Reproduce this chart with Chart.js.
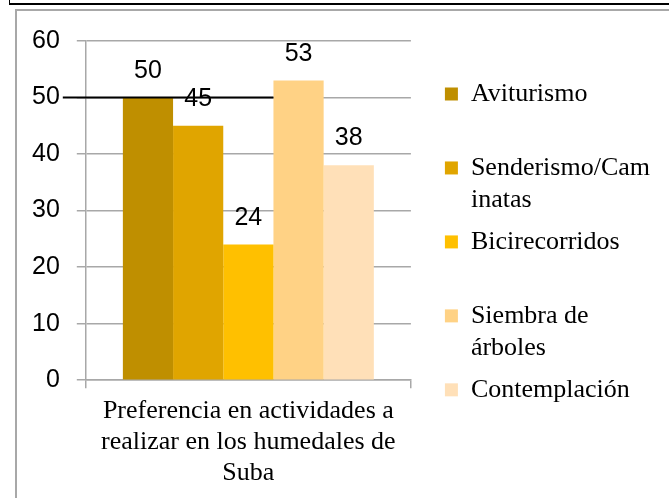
<!DOCTYPE html>
<html>
<head>
<meta charset="utf-8">
<script src="https://cdn.jsdelivr.net/npm/chart.js@4.4.0/dist/chart.umd.min.js"></script>
<style>
  body { margin: 0; background: #fff; }
  #wrap { position: relative; width: 669px; height: 498px; overflow: hidden; }
  .outer { position: absolute; left: 9px; top: -20px; width: 800px; height: 23px; border-left: 1px solid #000; border-bottom: 2px solid #000; }
  .inner { position: absolute; left: 15px; top: 9px; width: 800px; height: 800px; border: 2px solid #a8a8a8; }
  #chart { position: absolute; left: 0; top: 0; }
</style>
</head>
<body>
<div id="wrap">
  <div class="outer"></div>
  <div class="inner"></div>
  <canvas id="chart" width="669" height="498"></canvas>
</div>
<script>
// data
let categories = [['Preferencia en actividades a', 'realizar en los humedales de', 'Suba']];
let seriesNames = ['Aviturismo', 'Senderismo/Cam\ninatas', 'Bicirecorridos', 'Siembra de\nárboles', 'Contemplación'];
let seriesValues = [50, 45, 24, 53, 38];
let seriesColors = ['#BF8F00', '#E0A500', '#FFC000', '#FFD285', '#FFE0B8'];
let yMin = 0, yMax = 60, yStep = 10;
let blackLineValue = 50;

let gridColor = '#a8a8a8';
let sansFont = '"Liberation Sans", Arial, sans-serif';
let serifFont = '"Liberation Serif", "Times New Roman", serif';

let datasets = [];
for (let i = 0; i < seriesNames.length; i++) {
    datasets.push({
        label: seriesNames[i],
        data: [seriesValues[i]],
        backgroundColor: seriesColors[i],
        borderWidth: 0,
        barPercentage: 1,
        categoryPercentage: 0.772
    });
}

// numbers over bars + the stray black line at 50
let valueLabels = {
    id: 'valueLabels',
    afterDatasetsDraw(chart) {
        let ctx = chart.ctx;
        let yScale = chart.scales.y;
        ctx.save();

        let y50 = yScale.getPixelForValue(blackLineValue);
        let bar4 = chart.getDatasetMeta(3).data[0];
        ctx.strokeStyle = '#000';
        ctx.lineWidth = 2;
        ctx.beginPath();
        ctx.moveTo(chart.chartArea.left - 23, y50);
        ctx.lineTo(bar4.x - bar4.width / 2, y50);
        ctx.stroke();

        ctx.font = '25px ' + sansFont;
        ctx.fillStyle = '#000';
        ctx.textAlign = 'center';
        ctx.textBaseline = 'alphabetic';
        chart.data.datasets.forEach(function(ds, i) {
            chart.getDatasetMeta(i).data.forEach(function(bar, j) {
                ctx.fillText(ds.data[j], bar.x, bar.y - 20);
            });
        });
        ctx.restore();
    }
};

new Chart(document.getElementById('chart'), {
    type: 'bar',
    data: {
        labels: categories,
        datasets: datasets
    },
    options: {
        responsive: false,
        animation: false,
        layout: { padding: { top: 41, bottom: 1, left: 15, right: 9 } },
        plugins: {
            tooltip: { enabled: false },
            legend: {
                position: 'right',
                align: 'start',
                maxWidth: 400,
                title: { display: true, text: '', padding: { top: 29, bottom: 0 }, font: { size: 1, lineHeight: 1 } },
                labels: {
                    boxWidth: 13,
                    boxHeight: 13,
                    padding: 10,
                    color: '#000',
                    font: { family: serifFont, size: 26, lineHeight: 1.23 },
                    generateLabels(chart) {
                        return Chart.defaults.plugins.legend.labels.generateLabels(chart).map(function(item) {
                            let lines = item.text.split('\n');
                            if (lines.length < 2) lines.push('');
                            item.text = lines;
                            return item;
                        });
                    }
                }
            }
        },
        scales: {
            x: {
                grid: { display: true, drawOnChartArea: false, tickLength: 8, color: gridColor, lineWidth: 1.5 },
                border: { color: gridColor, width: 1.5 },
                ticks: { color: '#000', padding: 8, font: { family: serifFont, size: 26, lineHeight: 1.19 } }
            },
            y: {
                min: yMin,
                max: yMax,
                ticks: { stepSize: yStep, padding: 17, color: '#000', font: { family: sansFont, size: 25 } },
                grid: { color: gridColor, lineWidth: 1.5, tickLength: 9 },
                border: { color: gridColor, width: 1.5 }
            },
            gap: {
                position: 'right',
                display: true,
                grid: { display: false },
                ticks: { display: false },
                border: { display: false },
                afterFit(scale) { scale.width = 24; }
            }
        }
    },
    plugins: [valueLabels]
});
</script>
</body>
</html>
